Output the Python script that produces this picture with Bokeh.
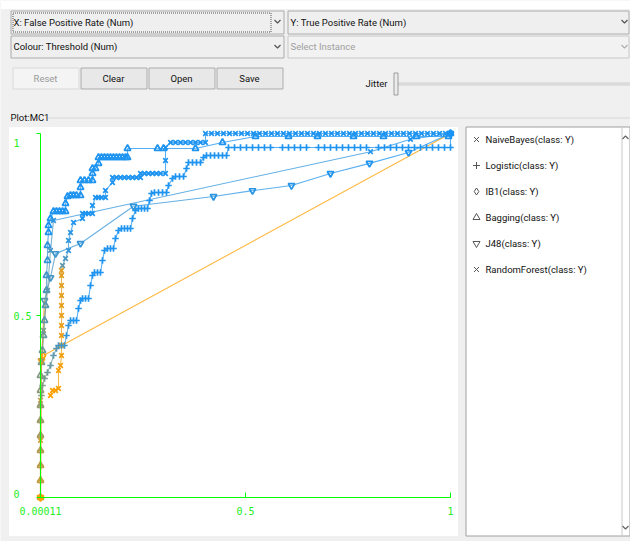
from bokeh.plotting import figure
from bokeh.models import Range1d, FixedTicker, CustomJSTickFormatter
from bokeh.core.properties import value
from bokeh.embed import file_html
from bokeh.resources import INLINE

# ---------------- data ----------------
SERIES = ["NaiveBayes(class: Y)", "Logistic(class: Y)", "IB1(class: Y)",
          "Bagging(class: Y)", "J48(class: Y)", "RandomForest(class: Y)"]
MARKERS = ["x", "cross", "diamond", "triangle", "inverted_triangle", "x"]

# NaiveBayes
nb_fpr = [0.0244, 0.0293, 0.0366, 0.0439, 0.0439, 0.0488, 0.0512, 0.0512, 0.0512, 0.0512,
          0.0512, 0.0512, 0.0512, 0.0512, 0.0512, 0.0512,
          0.0537, 0.061, 0.0683, 0.0683, 0.0732, 0.0805, 0.1024, 0.1024,
          0.1098, 0.1171, 0.1268, 0.1268, 0.1341, 0.1415, 0.1488, 0.1585, 0.1585, 0.1756, 0.1756,
          0.1854, 0.1951, 0.2049, 0.2146, 0.2244, 0.2341, 0.2439, 0.2439,
          0.2537, 0.2634, 0.2732, 0.2829, 0.2927, 0.3049, 0.3049, 0.3049, 0.3171,
          0.3293, 0.3415, 0.3537, 0.3659, 0.378, 0.3902, 0.4024, 0.4024,
          0.4171, 0.4317, 0.4463, 0.461, 0.4756, 0.4902, 0.5049, 0.5195, 0.5341, 0.5488,
          0.5634, 0.578, 0.5927, 0.6073, 0.622, 0.6366, 0.6512, 0.6659, 0.6805, 0.6951,
          0.7098, 0.7244, 0.739, 0.7537, 0.7683, 0.7829, 0.7976, 0.8122, 0.8268, 0.8415,
          0.8561, 0.8707, 0.8854, 0.9, 0.9146, 0.9293, 0.9439, 0.9585, 0.9732, 0.9878, 1.0]
nb_tpr = [0.2802, 0.294, 0.294, 0.2995, 0.3489, 0.3626, 0.3901, 0.4176, 0.4451, 0.4725,
          0.5, 0.5275, 0.5549, 0.5824, 0.6099, 0.6236,
          0.6374, 0.6566, 0.6786, 0.706, 0.728, 0.7555, 0.7665, 0.7802,
          0.7802, 0.7802, 0.7802, 0.8022, 0.8242, 0.8242, 0.8242, 0.8242, 0.8434, 0.8654, 0.8791,
          0.8791, 0.8791, 0.8791, 0.8791, 0.8791, 0.8791, 0.8791, 0.8901,
          0.8901, 0.8901, 0.8901, 0.8901, 0.8901, 0.8901, 0.9258, 0.9615, 0.9753,
          0.9753, 0.9753, 0.9753, 0.9753, 0.9753, 0.9753, 0.9753, 1.0,
          1.0, 1.0, 1.0, 1.0, 1.0, 1.0, 1.0, 1.0, 1.0, 1.0,
          1.0, 1.0, 1.0, 1.0, 1.0, 1.0, 1.0, 1.0, 1.0, 1.0,
          1.0, 1.0, 1.0, 1.0, 1.0, 1.0, 1.0, 1.0, 1.0, 1.0,
          1.0, 1.0, 1.0, 1.0, 1.0, 1.0, 1.0, 1.0, 1.0, 1.0, 1.0]
nb_thr_head = [1.0, 0.99, 0.98, 0.97, 0.96, 0.95, 0.94, 0.93, 0.92, 0.91, 0.9, 0.89, 0.88,
               0.87, 0.86, 0.85, 0.3, 0.2, 0.12, 0.1, 0.08]

# Logistic
lg_fpr = [0, 0, 0, 0, 0, 0, 0,
          0.0024, 0.0049, 0.0098, 0.0171, 0.0244, 0.0317, 0.039,
          0.0439, 0.0512, 0.0585, 0.0634, 0.0683, 0.0732, 0.0805, 0.0878, 0.0927, 0.0976,
          0.1024, 0.1098, 0.1171, 0.122, 0.1268, 0.1317, 0.139, 0.1463, 0.1512, 0.1561,
          0.1634, 0.1707, 0.178, 0.1829, 0.1902, 0.1976, 0.2049, 0.2122, 0.2195, 0.2244, 0.2317,
          0.239, 0.2463, 0.2537, 0.261, 0.2659, 0.2707, 0.278, 0.2878, 0.2976, 0.3073,
          0.3122, 0.322, 0.3293, 0.339, 0.3488, 0.3561, 0.361, 0.3707, 0.3805, 0.3902, 0.3976,
          0.4049, 0.4146, 0.4244, 0.4341, 0.4439, 0.4537, 0.4585,
          0.4732, 0.4878, 0.5024, 0.5171, 0.5317, 0.5463, 0.561,
          0.5902, 0.6049, 0.6195, 0.6341, 0.6488,
          0.678, 0.6927, 0.7073, 0.722, 0.7366, 0.7512, 0.7659, 0.7805, 0.7951,
          0.8244, 0.839, 0.8537, 0.8683, 0.8829, 0.8976, 0.9122, 0.9268, 0.9415, 0.9561,
          0.9707, 0.9854, 1.0, 1.0]
lg_tpr = [0, 0.0467, 0.0879, 0.1291, 0.1703, 0.2115, 0.2527,
          0.2802, 0.3077, 0.3269, 0.3434, 0.3626, 0.3901, 0.4093,
          0.4176, 0.4176, 0.4176, 0.4451, 0.4725, 0.4863, 0.4863, 0.4863, 0.5192, 0.5412,
          0.5467, 0.5467, 0.5467, 0.5824, 0.6099, 0.6181, 0.6181, 0.6181, 0.6511, 0.6786,
          0.6841, 0.6841, 0.6841, 0.7115, 0.7335, 0.739, 0.739, 0.739, 0.739, 0.7665, 0.7885,
          0.794, 0.794, 0.794, 0.794, 0.8159, 0.8352, 0.8379, 0.8379, 0.8379, 0.8379,
          0.8571, 0.8764, 0.8819, 0.8819, 0.8819, 0.9038, 0.9203, 0.9203, 0.9203, 0.9203, 0.9341,
          0.9396, 0.9396, 0.9396, 0.9396, 0.9396, 0.9396, 0.9615,
          0.9615, 0.9615, 0.9615, 0.9615, 0.9615, 0.9615, 0.9615,
          0.9615, 0.9615, 0.9615, 0.9615, 0.9615,
          0.9615, 0.9615, 0.9615, 0.9615, 0.9615, 0.9615, 0.9615, 0.9615, 0.9615,
          0.9615, 0.9615, 0.9615, 0.9615, 0.9615, 0.9615, 0.9615, 0.9615, 0.9615, 0.9615,
          0.9615, 0.9615, 0.9615, 1.0]
lg_thr_head = [0.78, 0.74, 0.7, 0.66, 0.62, 0.58, 0.54, 0.5, 0.46, 0.42, 0.38, 0.34, 0.3,
               0.26, 0.22, 0.18, 0.15, 0.12, 0.1, 0.08]

# IB1
ib_fpr = [0.0073, 1.0]
ib_tpr = [0.39, 1.0]
ib_thr_head = [1.0, 0.0]

# Bagging
bg_fpr = [0, 0, 0, 0, 0, 0, 0, 0, 0,
          0.0024, 0.0049, 0.0073, 0.0098, 0.0122, 0.0146, 0.0146, 0.0171, 0.0171, 0.0195,
          0.0195, 0.0244, 0.0317, 0.039, 0.0463, 0.0537, 0.061, 0.061, 0.0659,
          0.0732, 0.0805, 0.0878, 0.0976, 0.0976, 0.0976, 0.1073, 0.1171, 0.1268,
          0.1268, 0.1268, 0.1341, 0.1415, 0.1415,
          0.1488, 0.1561, 0.1634, 0.1707, 0.178, 0.1854, 0.1927, 0.2, 0.2073, 0.2122,
          0.2122, 0.2854, 0.3, 0.378, 0.4439, 0.5244, 0.6049, 0.6756, 0.7634, 0.8366,
          0.9171, 0.9951, 1.0]
bg_tpr = [0, 0.0467, 0.0879, 0.1291, 0.1703, 0.2115, 0.2527, 0.294, 0.3352,
          0.3709, 0.4038, 0.4451, 0.4863, 0.5275, 0.5687, 0.6099, 0.6511, 0.6923, 0.728,
          0.7473, 0.7665, 0.7857, 0.7857, 0.7857, 0.7857, 0.7857, 0.8077, 0.8269,
          0.8297, 0.8297, 0.8297, 0.8297, 0.8516, 0.8709, 0.8709, 0.8709, 0.8709,
          0.8901, 0.9038, 0.9038, 0.9176, 0.9341,
          0.9341, 0.9341, 0.9341, 0.9341, 0.9341, 0.9341, 0.9341, 0.9341, 0.9341, 0.9341,
          0.9588, 0.9588, 0.9588, 0.9588, 0.9753, 0.9918, 0.9918, 0.9918, 0.9918, 0.9918,
          0.9918, 0.9918, 1.0]
bg_thr_head = [0.78, 0.74, 0.7, 0.66, 0.62, 0.58, 0.54, 0.5, 0.46, 0.42, 0.38, 0.34, 0.3,
               0.26, 0.22, 0.18, 0.14, 0.1]

# J48
j48_fpr = [0, 0.0024, 0.0098, 0.0244, 0.0366, 0.0976, 0.2268, 0.422, 0.5171, 0.6122,
           0.7073, 0.8024, 0.8976, 1.0]
j48_tpr = [0, 0.376, 0.541, 0.604, 0.67, 0.698, 0.8, 0.827, 0.843, 0.857, 0.89, 0.918,
           0.948, 1.0]
j48_thr_head = [0.95, 0.9, 0.3, 0.2, 0.15, 0.12, 0.1, 0.08, 0.06, 0.05, 0.04, 0.02, 0.01, 0.0]

# RandomForest
rf_fpr = [0, 0, 0, 0.0024, 0.0073, 0.0171, 0.0244, 0.0317, 0.8049, 0.9024, 1.0]
rf_tpr = [0, 0.157, 0.267, 0.376, 0.459, 0.569, 0.679, 0.761, 0.95, 0.984, 1.0]
rf_thr_head = [1.0, 0.8, 0.7, 0.6, 0.45, 0.3, 0.2, 0.1, 0.05, 0.02, 0.0]

X_TICKS = [0.00011, 0.5, 1.0]
Y_TICKS = [0.0, 0.5, 1.0]

# ---------------- layout (reference pixel geometry) ----------------
W, H = 630, 541
PX0, PY0 = 0, 0
AXL, AXR, AXB, AXT = 40, 450, 497, 133  # pixel positions of fpr 0/1 and tpr 0/1
SX = float(AXR - AXL)
SY = float(AXB - AXT)

p = figure(width=W, height=H, output_backend="svg", toolbar_location=None,
           x_range=Range1d((PX0 - AXL) / SX, (PX0 + W - AXL) / SX),
           y_range=Range1d((AXB - (PY0 + H)) / SY, (AXB - PY0) / SY),
           min_border=0, background_fill_color="#f0f0f0", border_fill_color="#f0f0f0",
           outline_line_color=None)
p.extra_x_ranges = {"px": Range1d(PX0, PX0 + W)}
p.extra_y_ranges = {"py": Range1d(PY0 + H, PY0)}
p.grid.visible = False

UI = dict(x_range_name="px", y_range_name="py")
UIFONT = value("Roboto")


def box(x0, y0, x1, y1, fill, line, dash="solid"):
    p.quad(left=[x0 + 0.5], right=[x1 + 0.5], top=[y0 + 0.5], bottom=[y1 + 0.5],
           fill_color=fill, line_color=line, line_width=1, line_dash=dash, **UI)


def label(x, y, s, color="#111111", size="9.5px", align="left"):
    p.text(x=[x], y=[y], text=[s], text_font=UIFONT, text_font_size=size,
           text_color=color, text_align=align, text_baseline="middle", **UI)


def chevron(x, y, color="#555555", up=False):
    d = -1.5 if up else 1.5
    p.line(x=[x - 3, x, x + 3], y=[y - d, y + d, y - d], line_color=color,
           line_width=1.2, **UI)


# white strip above the controls
box(0, 0, 630, 8, "#ffffff", None)

# combo boxes
box(10, 10, 283, 33, "#efefef", "#acacac")
box(12, 12, 270, 31, None, "#555555", dash="1 1")
label(13, 21.5, "X: False Positive Rate (Num)")
chevron(277, 21)
box(287, 10, 628, 33, "#efefef", "#acacac")
label(290, 21.5, "Y: True Positive Rate (Num)")
chevron(624, 21)
box(10, 35, 283, 57, "#efefef", "#acacac")
label(13, 46, "Colour: Threshold (Num)")
chevron(277, 46)
box(287, 35, 628, 57, "#f2f2f2", "#c8c8c8")
label(290, 46, "Select Instance", color="#a0a0a0")
chevron(624, 46, color="#b0b0b0")

# buttons
box(12, 67, 78, 88, "#f4f4f4", "#d9d9d9")
label(45, 78, "Reset", color="#9a9a9a", align="center")
for bx, txt in [(80, "Clear"), (148, "Open"), (216, "Save")]:
    box(bx, 67, bx + 66, 88, "#e8e8e8", "#acacac")
    label(bx + 33, 78, txt, align="center")

# jitter slider
label(387, 83, "Jitter", align="right")
box(397, 82, 630, 84, "#e6e6e6", "#d0d0d0")
box(393, 72, 397, 94, "#ececec", "#9c9c9c")

# plot title + separator
label(10, 117, "Plot:MC1")
p.line(x=[48, 630], y=[117.5, 117.5], line_color="#d7d7d7", line_width=1, **UI)

# plot area and legend panel
box(8, 126, 457, 535, "#ffffff", None)
box(465, 126, 629, 535, "#ffffff", "#a0a0a0")
p.line(x=[621.5, 621.5], y=[126, 535], line_color="#c8c8c8", line_width=1, **UI)
chevron(625, 137, color="#666666", up=True)
chevron(625, 527, color="#666666")

# ---------------- curves ----------------
BLUE = (25, 148, 245)
ORANGE = (255, 160, 0)
TAIL = 0.02  # threshold colour of the blue bulk of each curve


def mix(t):
    c = [round(b + (o - b) * t) for b, o in zip(BLUE, ORANGE)]
    return "#%02x%02x%02x" % tuple(c)


curves = [(nb_fpr, nb_tpr, nb_thr_head), (lg_fpr, lg_tpr, lg_thr_head),
          (ib_fpr, ib_tpr, ib_thr_head), (bg_fpr, bg_tpr, bg_thr_head),
          (j48_fpr, j48_tpr, j48_thr_head), (rf_fpr, rf_tpr, rf_thr_head)]

prepared = []
for (fpr, tpr, head), mk in zip(curves, MARKERS):
    thr = list(head[:len(fpr)]) + [TAIL] * max(0, len(fpr) - len(head))
    cols = [mix(t) for t in thr]
    prepared.append((fpr, tpr, cols, mk))

for fpr, tpr, cols, mk in prepared:
    p.segment(x0=fpr[:-1], y0=tpr[:-1], x1=fpr[1:], y1=tpr[1:], line_color=cols[:-1],
              line_width=1.1, line_alpha=0.75)
for fpr, tpr, cols, mk in prepared:
    p.scatter(x=fpr, y=tpr, marker=mk, size=6.5, line_color=cols, line_width=1.7,
              fill_color=None)

# legend entries
for i, (name, mk) in enumerate(zip(SERIES, MARKERS)):
    ry = 139 + 26 * i
    p.scatter(x=[476], y=[ry], marker=mk, size=7, line_color="#555555", fill_color=None,
              line_width=1, **UI)
    label(485, ry, name)

# ---------------- axes ----------------
GREEN = "#00ff00"
xa = p.xaxis[0]
xa.fixed_location = 0
xa.bounds = (0, 1)
xa.ticker = FixedTicker(ticks=X_TICKS)
xa.formatter = CustomJSTickFormatter(code="return tick.toString();")
xa.axis_line_color = GREEN
xa.major_tick_line_color = GREEN
xa.major_tick_in = 5
xa.major_tick_out = 0
xa.minor_tick_line_color = None
xa.major_label_text_color = "#22ee22"
xa.major_label_text_font = "DejaVu Sans Mono"
xa.major_label_text_font_size = "10px"
xa.major_label_standoff = 9

ya = p.yaxis[0]
ya.fixed_location = 0
ya.bounds = (0, 1)
ya.ticker = FixedTicker(ticks=Y_TICKS)
ya.formatter = CustomJSTickFormatter(code="return '';")
ya.axis_line_color = GREEN
ya.major_tick_line_color = GREEN
ya.major_tick_in = 0
ya.major_tick_out = 4
ya.minor_tick_line_color = None

ylab = ["%g" % v for v in Y_TICKS]
ybase = ["bottom" if v == min(Y_TICKS) else ("top" if v == max(Y_TICKS) else "middle")
         for v in Y_TICKS]
p.text(x=[0] * len(Y_TICKS), y=Y_TICKS, text=ylab, x_offset=-27,
       y_offset=[0 if b != "top" else 5 for b in ybase], text_baseline=ybase,
       text_align="left", text_color="#22ee22", text_font=value("DejaVu Sans Mono"),
       text_font_size="10px")

open("out.html", "w").write(file_html(p, INLINE))
